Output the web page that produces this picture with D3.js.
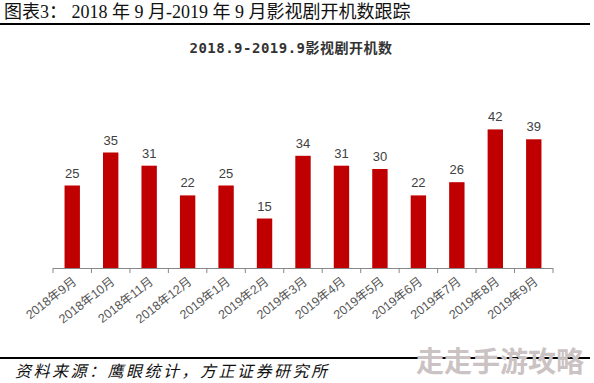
<!DOCTYPE html>
<html>
<head>
<meta charset="utf-8">
<script src="https://cdn.jsdelivr.net/npm/d3@7"></script>
<style>
  body { margin: 0; background: #fff; }
  svg { display: block; }
</style>
</head>
<body>
<svg id="chart" width="594" height="383"></svg>
<script>
var months = ["2018年9月", "2018年10月", "2018年11月", "2018年12月", "2019年1月", "2019年2月",
  "2019年3月", "2019年4月", "2019年5月", "2019年6月", "2019年7月", "2019年8月", "2019年9月"];
var counts = [25, 35, 31, 22, 25, 15, 34, 31, 30, 22, 26, 42, 39];

var svg = d3.select("#chart");

// header
svg.append("text")
  .attr("x", 4).attr("y", 18)
  .attr("font-family", "'Liberation Serif', 'Noto Sans CJK SC', serif")
  .attr("font-size", 18).attr("fill", "#111")
  .text("图表3：  2018 年 9 月-2019 年 9 月影视剧开机数跟踪");
svg.append("line")
  .attr("x1", 0).attr("x2", 590).attr("y1", 24).attr("y2", 24)
  .attr("stroke", "#000").attr("stroke-width", 2);

svg.append("text")
  .attr("x", 291).attr("y", 53)
  .attr("text-anchor", "middle")
  .attr("font-family", "'DejaVu Sans Mono', 'Noto Sans CJK SC', monospace")
  .attr("font-size", 14).attr("font-weight", "bold").attr("fill", "#333")
  .attr("letter-spacing", 0.5)
  .text("2018.9-2019.9影视剧开机数");

// scales
var x = d3.scaleBand().domain(months).range([53, 553]).paddingInner(0.6).paddingOuter(0.3);
var y = d3.scaleLinear().domain([0, 45]).range([268, 268 - 45 * 3.3]);

svg.selectAll("rect.bar")
  .data(counts)
  .enter()
  .append("rect")
  .attr("class", "bar")
  .attr("x", function(d, i){ return x(months[i]); })
  .attr("width", x.bandwidth())
  .attr("y", function(d){ return y(d); })
  .attr("height", function(d){ return y(0) - y(d); })
  .attr("fill", "#c00000");

svg.selectAll("text.val")
  .data(counts)
  .enter()
  .append("text")
  .attr("class", "val")
  .attr("x", function(d, i){ return x(months[i]) + x.bandwidth() / 2; })
  .attr("y", function(d){ return y(d) - 8; })
  .attr("text-anchor", "middle")
  .attr("font-family", "Arial, 'Liberation Sans', sans-serif")
  .attr("font-size", 13).attr("fill", "#404040")
  .text(function(d){ return d; });

// x axis, ticks sit on the category boundaries
var axis = svg.append("g");
axis.append("line")
  .attr("x1", 53).attr("x2", 553).attr("y1", 268.5).attr("y2", 268.5)
  .attr("stroke", "#888").attr("stroke-width", 1);
var bounds = d3.range(months.length + 1).map(function(i){ return 53 + i * x.step(); });
axis.selectAll("line.tick")
  .data(bounds)
  .enter()
  .append("line")
  .attr("class", "tick")
  .attr("x1", function(d){ return d; }).attr("x2", function(d){ return d; })
  .attr("y1", 268).attr("y2", 273)
  .attr("stroke", "#888");

axis.selectAll("text.lab")
  .data(months)
  .enter()
  .append("text")
  .attr("class", "lab")
  .attr("transform", function(d){
    return "translate(" + (x(d) + x.bandwidth() / 2 + 5) + ",283) rotate(-38)";
  })
  .attr("text-anchor", "end")
  .attr("font-family", "Arial, 'Liberation Sans', 'Noto Sans CJK SC', sans-serif")
  .attr("font-size", 12.5).attr("fill", "#555")
  .text(function(d){ return d; });

// footer
svg.append("line")
  .attr("x1", 0).attr("x2", 590).attr("y1", 358).attr("y2", 358)
  .attr("stroke", "#000").attr("stroke-width", 2);
svg.append("text")
  .attr("x", 15).attr("y", 377)
  .attr("font-family", "'Noto Sans CJK SC', serif")
  .attr("font-size", 16).attr("font-style", "italic").attr("fill", "#111")
  .attr("letter-spacing", 2.5)
  .text("资料来源：鹰眼统计，方正证券研究所");

svg.append("text")
  .attr("x", 584).attr("y", 372)
  .attr("text-anchor", "end")
  .attr("font-family", "'Noto Sans CJK SC', sans-serif")
  .attr("font-size", 28).attr("font-weight", "bold").attr("fill", "#cbc3c3")
  .text("走走手游攻略");
</script>
</body>
</html>
